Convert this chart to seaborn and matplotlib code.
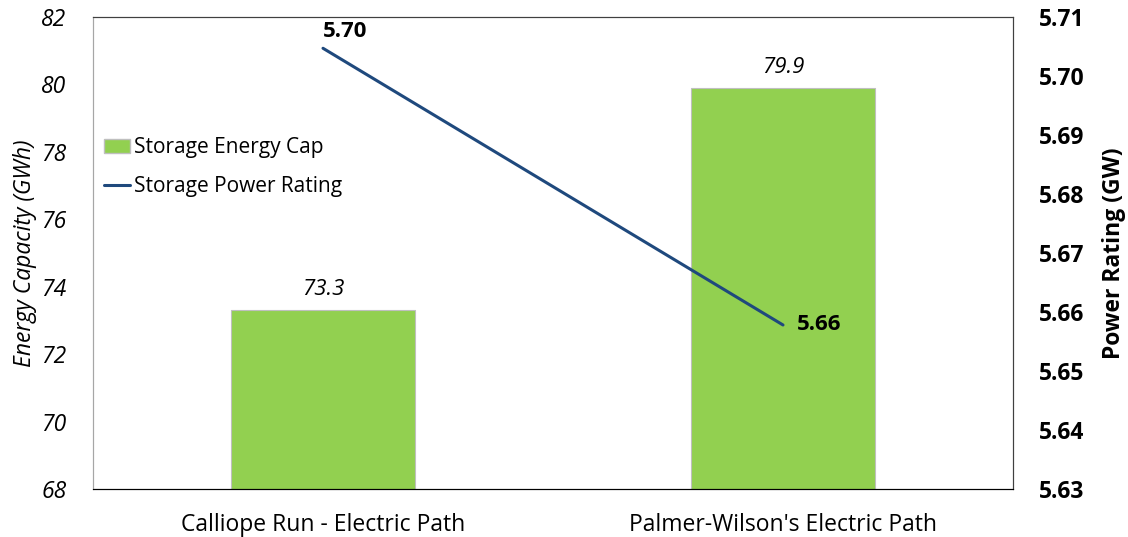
import matplotlib
matplotlib.use("Agg")
import matplotlib.pyplot as plt
import seaborn as sns
import pandas as pd
from matplotlib.patches import Patch
from matplotlib.lines import Line2D

# data
categories = ["Calliope Run - Electric Path", "Palmer-Wilson's Electric Path"]
energy_cap = [73.3, 79.9]          # GWh
power_rating = [5.7047, 5.6578]    # GW
left_ticks = [68, 70, 72, 74, 76, 78, 80, 82]
right_ticks = [5.63, 5.64, 5.65, 5.66, 5.67, 5.68, 5.69, 5.70, 5.71]

bar_color = "#92D050"
line_color = "#1F497D"

sns.set_style("white")
plt.rcParams["font.family"] = ["Open Sans", "DejaVu Sans"]
plt.rcParams["text.color"] = "black"
plt.rcParams["xtick.color"] = "black"
plt.rcParams["ytick.color"] = "black"
plt.rcParams["axes.labelcolor"] = "black"

df = pd.DataFrame({"path": categories, "energy": energy_cap, "power": power_rating})

fig = plt.figure(figsize=(11.28, 5.37), dpi=100)
ax = fig.add_axes([93 / 1128, 1 - 489 / 537, (1013 - 93) / 1128, (489 - 17) / 537])

sns.barplot(data=df, x="path", y="energy", ax=ax, color=bar_color, width=0.4,
            edgecolor="#BFBFBF", linewidth=0.8, saturation=1)
ax.set_xlim(-0.5, 1.5)
ax.set_ylim(68, 82)
ax.set_yticks(left_ticks)
ax.set_yticklabels([str(t) for t in left_ticks], fontsize=16.5, style="italic")
ax.set_xticks([-0.5, 0.5, 1.5], minor=False)
ax.set_xticklabels([])
ax.set_xticks([0, 1], minor=True)
ax.set_xticklabels(categories, minor=True, fontsize=16.5)
ax.tick_params(axis="x", which="major", direction="out", length=6, width=0.8, color="#404040")
ax.tick_params(axis="x", which="minor", length=0, pad=17)
ax.tick_params(axis="y", length=0, pad=19)
ax.set_xlabel("")
ax.set_ylabel("Energy Capacity (GWh)", fontsize=16.5, style="italic", labelpad=3)

for i, v in enumerate(df["energy"]):
    ax.text(i, v + 0.3, f"{v:.1f}", ha="center", va="bottom", fontsize=16, style="italic")

ax2 = ax.twinx()
sns.lineplot(x=range(len(categories)), y=df["power"], ax=ax2, color=line_color, linewidth=2.2)
ax2.set_xlim(-0.5, 1.5)
ax2.set_ylim(5.63, 5.71)
ax2.set_yticks(right_ticks)
ax2.set_yticklabels([f"{t:.2f}" for t in right_ticks], fontsize=16.5, fontweight="bold")
ax2.tick_params(axis="y", length=0, pad=19)
ax2.set_ylabel("Power Rating (GW)", fontsize=16.5, fontweight="bold", labelpad=12)

ax2.text(0, df["power"][0] + 0.0010, f"{df['power'][0]:.2f}", ha="left", va="bottom",
         fontsize=16, fontweight="bold")
ax2.text(1.03, df["power"][1], f"{df['power'][1]:.2f}", ha="left", va="center",
         fontsize=16, fontweight="bold")

for a in (ax, ax2):
    for side in ("top", "left", "right", "bottom"):
        a.spines[side].set_visible(True)
        a.spines[side].set_linewidth(0.8)
    a.spines["left"].set_color("#A6A6A6")
    a.spines["top"].set_color("#404040")
    a.spines["right"].set_color("#404040")
    a.spines["bottom"].set_color("#000000")

handles = [Patch(facecolor=bar_color, edgecolor="#BFBFBF", label="Storage Energy Cap"),
           Line2D([0], [0], color=line_color, linewidth=2.2, label="Storage Power Rating")]
ax.legend(handles=handles, loc="upper left", bbox_to_anchor=(-0.008, 0.785), frameon=False,
          fontsize=15, handlelength=1.25, handletextpad=0.15, labelspacing=0.85)

fig.savefig("out.png", dpi=100)
